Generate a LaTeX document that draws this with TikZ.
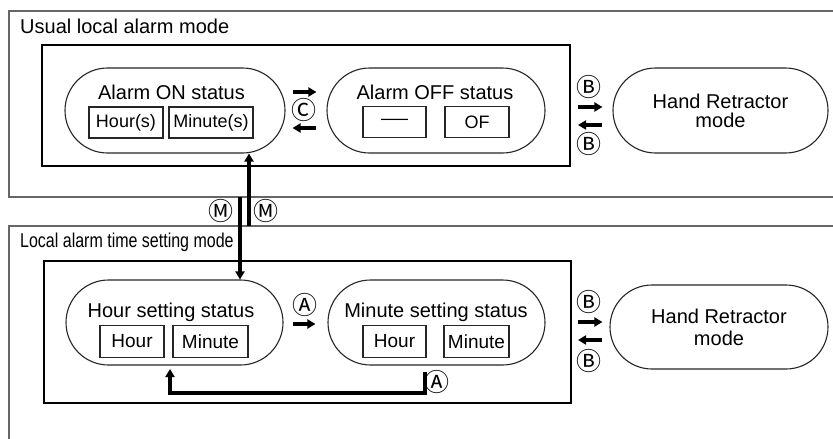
\documentclass[tikz,border=0pt]{standalone}
\usepackage{fontspec}
\setmainfont{Liberation Sans}
\newfontfamily\symf{Noto Sans CJK JP}
\usetikzlibrary{shapes.misc,arrows.meta}
\newcommand{\fsz}[1]{\fontsize{#1}{#1}\selectfont}
\tikzset{
  outerbox/.style={draw=black!60, line width=1.1pt},
  innerbox/.style={draw=black, line width=2.2pt},
  stad/.style={rounded rectangle, draw=black!85, line width=1.1pt, minimum height=85pt, inner sep=0pt},
  valbox/.style={draw=black!85, line width=1.4pt, inner sep=0pt, minimum height=31pt, font=\fsz{18}},
  valboxb/.style={draw=black!85, line width=1.4pt, inner sep=0pt, minimum height=32pt, font=\fsz{19}},
  ttl/.style={anchor=base, font=\fsz{20}, inner sep=0pt},
  circ/.style={font=\symf\fsz{25}, inner sep=0pt},
  arr/.style={line width=3.2pt, -{Triangle[length=8pt,width=9pt]}},
}
\begin{document}
\begin{tikzpicture}[x=1pt,y=-1pt]
\useasboundingbox (0,0) rectangle (833,439);
\fill[white] (0,0) rectangle (833,439);
% ---------- Usual local alarm mode ----------
\draw[outerbox] (840,11) -- (9,11) -- (9,197) -- (840,197);
\node[anchor=base west, font=\fsz{20}, inner sep=0pt] (t1) at (20,34) {Usual local alarm mode};
\draw[innerbox] (42,45) rectangle (570,166);

\node[stad, minimum width=220pt] (on) at (175,110.5) {};
\node[ttl] (ont) at (171.5,99) {Alarm ON status};
\node[valbox, minimum width=74pt] (onh) at (126,122.5) {Hour(s)};
\node[valbox, minimum width=84pt] (onm) at (211,122.5) {Minute(s)};

\node[stad, minimum width=218pt] (off) at (436,110.5) {};
\node[ttl] (offt) at (435,99) {Alarm OFF status};
\node[valbox, minimum width=63pt] (offh) at (394.5,122) {\scalebox{1.5}[1]{—}};
\node[valbox, minimum width=64pt] (offm) at (477,122) {OF};

\draw[arr] ([xshift=7pt,yshift=18.5pt]on.east) -- ([xshift=-10pt,yshift=18.5pt]off.west);
\draw[arr] ([xshift=-10pt,yshift=-17.5pt]off.west) -- ([xshift=7pt,yshift=-17.5pt]on.east);
\node[circ] (c1) at (304,110) {Ⓒ};

\node[stad, minimum width=215pt, align=center, font=\fsz{20}] (hr1) at (720.5,110.5) {Hand Retractor\\[-1pt]mode};
\coordinate (b1a) at (578,107);
\coordinate (b1b) at (578,125);
\draw[arr] (b1a) -- ([xshift=-10pt]b1a -| hr1.west);
\draw[arr] ([xshift=-10pt]b1b -| hr1.west) -- (b1b);
\node[circ] (bu1) at (589,87) {Ⓑ};
\node[circ] (bd1) at (589,144) {Ⓑ};

% ---------- Local alarm time setting mode ----------
\draw[outerbox] (840,226) -- (9,226) -- (9,445);
\node[anchor=base west, font=\fsz{20}, inner sep=0pt] (t2) at (20,247) {\scalebox{0.8}[1]{Local alarm time setting mode}};
\draw[innerbox] (44,261) rectangle (571,403);

\node[stad, minimum width=217pt] (hs) at (174.5,322.5) {};
\node[ttl] (hst) at (171,317) {Hour setting status};
\node[valboxb, minimum width=64pt] (hsh) at (132,341.5) {Hour};
\node[valboxb, minimum width=75pt] (hsm) at (210.5,341.5) {Minute};

\node[stad, minimum width=217pt] (ms) at (436.5,322.5) {};
\node[ttl] (mst) at (436,317) {Minute setting status};
\node[valboxb, minimum width=63pt] (msh) at (394.5,341.5) {Hour};
\node[valboxb, minimum width=65pt] (msm) at (476.5,341.5) {Minute};

\draw[arr] ([xshift=9pt,yshift=-1.5pt]hs.east) -- ([xshift=-12pt,yshift=-1.5pt]ms.west);
\node[circ] (a1) at (305,305) {Ⓐ};

\coordinate (r1) at (425,372);
\coordinate (r2) at (170,393);
\coordinate (r3) at (170,369);
\draw[arr, line join=miter] (r1) |- (r2) -- (r3);
\node[circ] (a2) at (437,382) {Ⓐ};

\node[stad, minimum width=218pt, minimum height=84pt, align=center, font=\fsz{20}] (hr2) at (719,327) {Hand Retractor\\[2pt]mode};
\coordinate (b2a) at (578,322);
\coordinate (b2b) at (578,340);
\draw[arr] (b2a) -- ([xshift=-7pt]b2a -| hr2.west);
\draw[arr] ([xshift=-7pt]b2b -| hr2.west) -- (b2b);
\node[circ] (bu2) at (589,302) {Ⓑ};
\node[circ] (bd2) at (589,361) {Ⓑ};

% ---------- M connectors ----------
\coordinate (m1) at (240,197);
\coordinate (m2) at (249,226);
\draw[arr] (m1) -- (m1 |- hs.north);
\draw[arr] (m2) -- (m2 |- on.south);
\node[circ] (ml) at (221,211) {Ⓜ};
\node[circ] (mr) at (266,211) {Ⓜ};
\end{tikzpicture}
\end{document}
